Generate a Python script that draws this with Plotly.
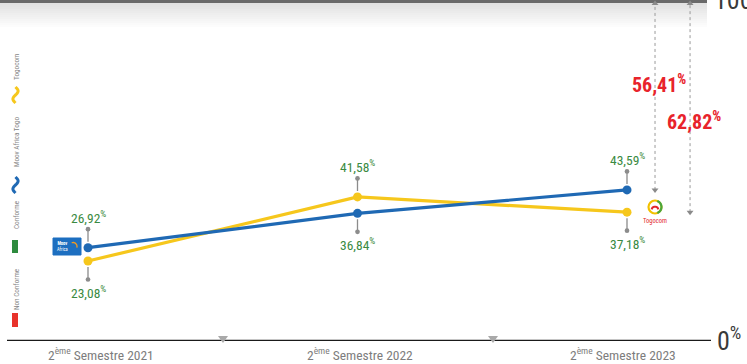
import numpy as np
import plotly.graph_objects as go

# ---------------- data ----------------
periods = ["2ème Semestre 2021", "2ème Semestre 2022", "2ème Semestre 2023"]
moov_conforme = [26.92, 36.84, 43.59]
togocom_conforme = [23.08, 41.58, 37.18]
moov_non_conforme_last = 56.41
togocom_non_conforme_last = 62.82
legend_items = ["Togocom", "Moov Africa Togo", "Conforme", "Non Conforme"]

# ---------------- geometry helpers ----------------
W, H = 747, 364
B = 23
PH = H - B
YMAX = 98.4
X0, XSTEP = 88, 269.5


def xp(p):
    return p / W


def yp(p):
    return (PH - p) / PH


FONT = "Noto Sans Condensed, Roboto Condensed, Liberation Sans Narrow, Roboto, sans-serif"
BLUE = "#1f69b4"
YELLOW = "#f6c71c"
GREEN = "#3a8a42"
RED = "#e8232b"

xs = list(range(len(periods)))


def fmt(v):
    return f"{v:.2f}".replace(".", ",") + "<sup>%</sup>"


def pann(x, y, text, **kw):
    d = dict(x=xp(x), y=yp(y), xref="paper", yref="paper", text=text,
             showarrow=False, xanchor="center", yanchor="middle")
    d.update(kw)
    return d


fig = go.Figure()

fig.add_trace(go.Scatter(x=xs, y=togocom_conforme, mode="lines+markers",
                         line=dict(color=YELLOW, width=3.2),
                         marker=dict(color=YELLOW, size=9),
                         name="Togocom", hoverinfo="skip"))
fig.add_trace(go.Scatter(x=xs, y=moov_conforme, mode="lines+markers",
                         line=dict(color=BLUE, width=3.2),
                         marker=dict(color=BLUE, size=9),
                         name="Moov Africa Togo", hoverinfo="skip"))

# dashed double arrows to 100 %
last = xs[-1]
arrow_x = [last + 0.104, last + 0.234]
for ax_, v in zip(arrow_x, [moov_conforme[-1], togocom_conforme[-1]]):
    fig.add_trace(go.Scatter(x=[ax_, ax_], y=[v, 97.4], mode="lines+markers",
                             line=dict(color="#9a9a9a", width=1, dash="3px,3px"),
                             marker=dict(symbol=["triangle-down", "triangle-up"],
                                         size=6, color="#8a8a8a"),
                             hoverinfo="skip", showlegend=False))

annotations = []
shapes = []

# value labels with connectors
for i in xs:
    pair = [moov_conforme[i], togocom_conforme[i]]
    hi, lo = max(pair), min(pair)
    for v, sgn in ((hi, -1), (lo, 1)):
        annotations.append(dict(x=i, y=v, xref="x", yref="y", text=fmt(v),
                                showarrow=False, yshift=-sgn * 31,
                                xanchor="center", yanchor="middle",
                                font=dict(family=FONT, size=13.5, color=GREEN)))
        annotations.append(dict(x=i, y=v, xref="x", yref="y", text="",
                                showarrow=True, ax=0, ay=sgn * 20,
                                arrowside="start", startarrowhead=6,
                                startarrowsize=0.9, arrowwidth=1.3,
                                arrowcolor="#8c8c8c", standoff=6))

# red non-conformity labels
for ax_, v, ypix in zip(arrow_x, [moov_non_conforme_last, togocom_non_conforme_last], [84, 121]):
    annotations.append(dict(x=ax_, y=yp(ypix), xref="x", yref="paper",
                            text="<b>" + fmt(v) + "</b>", showarrow=False,
                            xshift=4, xanchor="center", yanchor="middle",
                            font=dict(family=FONT, size=20, color=RED)))

# category labels
for i, (lab, sh) in enumerate(zip(periods, [13, 2, -4])):
    num, rest = lab.split("ème", 1)
    annotations.append(dict(x=i, y=yp(354), xref="x", yref="paper",
                            text=f"{num}<sup>ème</sup>{rest}", showarrow=False,
                            xshift=sh, xanchor="center", yanchor="middle",
                            font=dict(family=FONT, size=13.5, color="#7d7d7d")))

# axis end labels
annotations.append(pann(715, 339, "0<sup>%</sup>", xanchor="left",
                        font=dict(family=FONT, size=26, color="#3a3a3a")))
annotations.append(pann(712, -2, "100<sup>%</sup>", xanchor="left",
                        font=dict(family=FONT, size=26, color="#3a3a3a")))

# left vertical legend
leg_pos = [67, 142, 215, 289]
for lab, yy in zip(legend_items, leg_pos):
    annotations.append(pann(16, yy, lab, textangle=-90,
                            font=dict(family=FONT, size=7.2, color="#858585")))
for col, y0 in ((YELLOW, 87), (BLUE, 177)):
    t = np.linspace(0, 2 * np.pi, 24)
    wave = " L ".join(f"{xp(15.5 + 2.6 * np.sin(a))},{yp(y0 + 16 * a / (2 * np.pi))}" for a in t)
    shapes.append(dict(type="path", xref="paper", yref="paper", path="M " + wave,
                       line=dict(color=col, width=3)))
shapes.append(dict(type="rect", xref="paper", yref="paper", x0=xp(12), x1=xp(18),
                   y0=yp(253), y1=yp(240), fillcolor="#2e8b3e", line=dict(width=0)))
shapes.append(dict(type="rect", xref="paper", yref="paper", x0=xp(12), x1=xp(18),
                   y0=yp(327), y1=yp(313), fillcolor="#e8332b", line=dict(width=0)))

# top bar and soft gradient
shapes.append(dict(type="rect", xref="paper", yref="paper", x0=0, x1=xp(707),
                   y0=yp(3), y1=yp(0), fillcolor="#6a6a6a", line=dict(width=0), layer="below"))
for k in range(12):
    c = int(226 + k * 29 / 12)
    shapes.append(dict(type="rect", xref="paper", yref="paper", x0=0, x1=xp(707),
                       y0=yp(3 + 2 * (k + 1)), y1=yp(3 + 2 * k),
                       fillcolor=f"rgb({c},{c},{c})", line=dict(width=0), layer="below"))

# bottom axis line
shapes.append(dict(type="line", xref="paper", yref="y", x0=xp(7), x1=xp(711),
                   y0=0, y1=0, line=dict(color="#1a1a1a", width=2.5)))
# small triangles on axis
for tx in (223, 493):
    path = f"M {xp(tx-5)},{yp(336)} L {xp(tx+5)},{yp(336)} L {xp(tx)},{yp(343)} Z"
    shapes.append(dict(type="path", xref="paper", yref="paper", path=path,
                       fillcolor="#a9a9a9", line=dict(width=0)))

# Moov logo
shapes.append(dict(type="rect", xref="paper", yref="paper", x0=xp(53), x1=xp(81),
                   y0=yp(255), y1=yp(238), fillcolor="#1d6fc0",
                   line=dict(color="#1d6fc0", width=1)))
annotations.append(pann(63, 246.5, "<b>Moov</b><br>Africa",
                        font=dict(family=FONT, size=4.5, color="white")))
t = np.linspace(-0.3, 1.9, 12)
arc = " L ".join(f"{xp(73 + 4 * np.cos(a))},{yp(246.5 - 4 * np.sin(a))}" for a in t)
shapes.append(dict(type="path", xref="paper", yref="paper", path="M " + arc,
                   line=dict(color="#f39a1e", width=1.3)))

# Togocom logo
cx, cy, r = 655, 207, 6.5
shapes.append(dict(type="circle", xref="paper", yref="paper",
                   x0=xp(cx - r), x1=xp(cx + r), y0=yp(cy + r), y1=yp(cy - r),
                   line=dict(color="#f2c100", width=2.2)))
t = np.linspace(-1.2, 1.2, 10)
arc = " L ".join(f"{xp(cx + r * np.cos(a))},{yp(cy - r * np.sin(a))}" for a in t)
shapes.append(dict(type="path", xref="paper", yref="paper", path="M " + arc,
                   line=dict(color="#4aa63c", width=2.2)))
t = np.linspace(0.2, np.pi - 0.2, 10)
arc = " L ".join(f"{xp(cx + 3.4 * np.cos(a))},{yp(cy + 3 - 3.4 * np.sin(a))}" for a in t)
shapes.append(dict(type="path", xref="paper", yref="paper", path="M " + arc,
                   line=dict(color="#e3262b", width=2)))
annotations.append(pann(cx, 221, "Togocom",
                        font=dict(family=FONT, size=6.5, color="#e3262b")))

fig.update_layout(
    width=W, height=H,
    margin=dict(l=0, r=0, t=0, b=B),
    paper_bgcolor="white", plot_bgcolor="white",
    showlegend=False,
    xaxis=dict(range=[-X0 / XSTEP, (W - X0) / XSTEP], visible=False, fixedrange=True),
    yaxis=dict(range=[0, YMAX], visible=False, fixedrange=True),
    annotations=annotations,
    shapes=shapes,
)

fig.write_html("out.html")
